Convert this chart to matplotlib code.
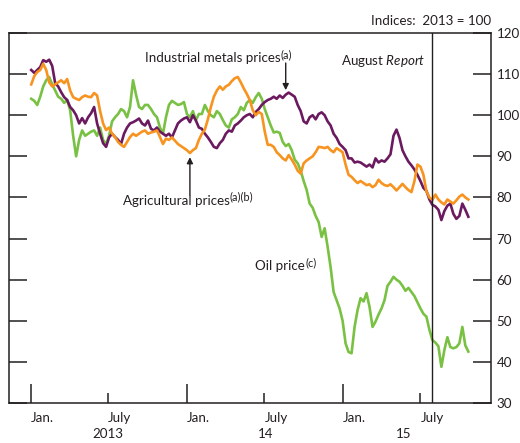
import matplotlib
matplotlib.use("Agg")
import matplotlib.pyplot as plt
import matplotlib.transforms as mtransforms
import pandas as pd

plt.rcParams['font.family'] = ['Lato', 'DejaVu Sans']
plt.rcParams['mathtext.fontset'] = 'custom'
plt.rcParams['mathtext.rm'] = 'Lato'
plt.rcParams['mathtext.it'] = 'Lato:italic'

# ---------------- data (weekly readings, indices 2013 = 100) ----------------
start_date = "2013-01-02"

metals = [111, 110.3, 111, 111.7, 113.4, 113, 113.5, 112, 107.8, 107,
          105.6, 104.4, 103.7, 102, 101.2, 100, 98, 99.3, 98, 99.5,
          100.5, 102, 98, 95.5, 93.2, 92.3, 94.6, 95.5, 94.7, 94,
          93, 95.5, 97, 98, 98.3, 98.7, 99.2, 98, 97.5, 98.7,
          96.7, 96.3, 97, 96, 95.5, 95, 95.5, 94.6, 96.3, 98,
          98.7, 99.2, 99.5, 98.3, 100, 98.7, 97, 96.7, 95.5, 94.6,
          93.5, 92.3, 92, 93.2, 94, 95.5, 96.3, 96, 97.5, 98,
          98.7, 99.5, 100, 100.3, 99.5, 100.8, 101.5, 102.5, 103.2, 103.7,
          104, 104.5, 104, 104.8, 104.2, 105, 105.5, 105, 104.5, 102.5,
          101, 98.5, 98, 99.5, 100, 99, 100.3, 100.7, 100, 98.5,
          97.5, 95.5, 94.5, 93, 92.3, 91.5, 89.5, 89.5, 88.5, 88.7,
          88.5, 88, 87.5, 88, 87.3, 89.5, 88.5, 89, 88.7, 89.5,
          90.5, 95, 96.5, 94.5, 91.5, 90, 88.7, 87.8, 86.8, 85.5,
          84, 82.3, 81.6, 79.5, 78.2, 77.8, 77, 74.5, 76.7, 78,
          78.5, 76, 74.8, 75.5, 78.5, 77, 75.3]

agri = [107.5, 109.5, 110.5, 111, 112.5, 111, 108, 107, 107.5, 108,
        108.5, 107.8, 108.8, 106, 104.4, 104, 103.7, 104.4, 104.8, 104.5,
        104.4, 105.4, 104.8, 101, 98, 96.4, 97, 95.5, 94.7, 93.5,
        92.8, 92.3, 93.5, 94.7, 95.5, 95, 95.5, 96, 96.3, 95.5,
        95.8, 96, 96.3, 94.7, 93, 94.3, 94, 94.6, 93.8, 93,
        92.5, 92, 91.5, 90.8, 91.5, 92, 94, 95.5, 96.5, 99,
        102, 104.5, 106, 107, 106.2, 107, 107.4, 108.3, 109, 109.3,
        108, 106.5, 105.2, 103.7, 101.2, 100, 100.8, 100.3, 96, 92.8,
        92.8, 92.3, 91, 90.3, 89.5, 89, 90.3, 89.2, 88, 86.5,
        85.8, 88.3, 89, 89.5, 90, 91, 92.3, 92.2, 92, 92.3,
        91.5, 91, 92, 91.5, 91, 88, 85.5, 85, 84.2, 83.5,
        84, 83.5, 83, 83.2, 82.5, 83, 84.3, 83.5, 83, 82.8,
        83.2, 82.5, 81.7, 82.5, 83.3, 82.5, 81.8, 81.3, 84, 88,
        87.5, 85.5, 81.5, 80, 79.4, 80.7, 79.5, 78.8, 78.3, 79.5,
        79, 78.5, 79.3, 80.2, 80.7, 80, 79.5]

oil = [104, 103.5, 102.5, 104.5, 107, 108.5, 109.3, 107.5, 106, 104.5,
       104, 103, 103.7, 101.2, 95, 90, 94, 96.3, 95, 95.5,
       96, 96.3, 95, 97, 94, 93, 95, 98.5, 99.5, 100.3,
       101.5, 101, 99.5, 102, 108.5, 105, 102, 101.5, 102.5, 102.5,
       101.5, 100.3, 99.5, 97, 95.5, 99.5, 102.5, 103.5, 103, 102.5,
       102.7, 103.2, 100.3, 99.5, 101, 98.8, 100.3, 100.3, 102.5, 101,
       100, 99.5, 101, 100.3, 98.8, 97.5, 97, 99, 99.5, 100.3,
       102, 101.2, 103, 103.7, 103, 104.4, 105.4, 104, 101.5, 99.5,
       97.5, 95.8, 96, 95.7, 93.5, 92.5, 93, 91.5, 89.2, 88.3,
       86.5, 84, 81.8, 78.5, 77.5, 75.5, 74, 70.4, 72.5, 68,
       63, 57, 55, 53, 50, 44.5, 42.4, 42.1, 48.5, 52.6,
       55.5, 54.7, 56.7, 53.4, 48.5, 49.8, 51.5, 53, 55, 58.5,
       59.5, 60.7, 60, 59.5, 58.5, 57.3, 58, 57, 56, 54.5,
       53, 51.7, 51, 47.8, 45.3, 44.7, 43.8, 38.8, 42.9, 46,
       43.6, 43.3, 43.6, 44.5, 48.5, 44, 42.5]

dates = pd.date_range(start_date, periods=len(oil), freq="7D")

report_date = pd.Timestamp("2015-07-28")
jan_ticks = pd.to_datetime(["2013-01-01", "2014-01-01", "2015-01-01"])
jul_ticks = pd.to_datetime(["2013-07-01", "2014-07-01", "2015-07-01"])
year_labels = ["2013", "14", "15"]
year_label_pos = pd.to_datetime(["2013-07-01", "2014-07-03", "2015-05-22"])
y_ticks = [30, 40, 50, 60, 70, 80, 90, 100, 110, 120]

# ---------------- styling ----------------
c_metals = "#6b1a5f"
c_agri = "#f7931e"
c_oil = "#79c143"
ink = "#231f20"
fs = 9.6
fs_sup = 7.8

fig = plt.figure(figsize=(5.2, 4.43), dpi=100)
ax = fig.add_axes([9 / 520, 1 - 403 / 443, (491 - 9) / 520, (403 - 33) / 443])

ax.plot(dates, oil, color=c_oil, lw=1.9, zorder=3)
ax.plot(dates, metals, color=c_metals, lw=1.9, zorder=4)
ax.plot(dates, agri, color=c_agri, lw=1.9, zorder=5)

ax.axvline(report_date, color=ink, lw=1.0, zorder=6)

ax.set_xlim(pd.Timestamp("2012-11-11"), pd.Timestamp("2015-12-13"))
ax.set_ylim(30, 120)

for s in ax.spines.values():
    s.set_color(ink)
    s.set_linewidth(1.1)

# y axis: ticks both sides, labels right
ax.set_yticks(y_ticks)
ax.yaxis.set_ticks_position("both")
ax.tick_params(axis="y", direction="in", length=13, width=1.1, color=ink,
               labelleft=False, labelright=True, labelsize=fs, pad=4,
               labelcolor=ink)

# x axis
ax.set_xticks(jan_ticks)
ax.set_xticklabels(["Jan."] * len(jan_ticks))
ax.set_xticks(jul_ticks, minor=True)
ax.set_xticklabels(["July"] * len(jul_ticks), minor=True)
ax.tick_params(axis="x", which="major", direction="in", length=14, width=1.1,
               color=ink, labelsize=fs, pad=6.5, labelcolor=ink)
ax.tick_params(axis="x", which="minor", direction="in", length=7.5, width=1.1,
               color=ink, labelsize=fs, pad=6.5, labelcolor=ink)
for lab in ax.get_xticklabels(which="both"):
    lab.set_horizontalalignment("left")
ax.xaxis.set_ticks_position("bottom")

trans = mtransforms.blended_transform_factory(ax.transData, ax.transAxes)
for lbl, pos in zip(year_labels, year_label_pos):
    ax.text(pos, -0.0950, lbl, transform=trans, ha="center", va="baseline",
            fontsize=fs, color=ink)

# header
ax.text(1.0, 1.022, "Indices:  2013 = 100", transform=ax.transAxes,
        ha="right", va="baseline", fontsize=fs, color=ink)


def label_with_sup(x, y, main, sup):
    t = ax.text(x, y, main, ha="left", va="baseline", fontsize=fs, color=ink)
    ax.annotate(sup, xy=(1.0, 1.0), xycoords=t, xytext=(0.1, 2.4),
                textcoords="offset points", ha="left", va="top",
                fontsize=fs_sup, color=ink)
    return t


# annotations
label_with_sup(pd.Timestamp("2013-09-25"), 112.9,
               "Industrial metals prices", "(a)")
ax.annotate("", xy=(pd.Timestamp("2014-08-20"), 106.1),
            xytext=(pd.Timestamp("2014-08-20"), 112.7),
            arrowprops=dict(arrowstyle="-|>", color=ink, lw=1.0,
                            mutation_scale=9, shrinkA=0, shrinkB=0))

ax.text(pd.Timestamp("2015-07-13"), 112.2, r"August $\mathit{Report}$",
        ha="right", va="baseline", fontsize=fs, color=ink)

label_with_sup(pd.Timestamp("2013-08-04"), 78.2,
               "Agricultural prices", "(a)(b)")
ax.annotate("", xy=(pd.Timestamp("2014-01-08"), 89.8),
            xytext=(pd.Timestamp("2014-01-08"), 80.6),
            arrowprops=dict(arrowstyle="-|>", color=ink, lw=1.0,
                            mutation_scale=9, shrinkA=0, shrinkB=0))

label_with_sup(pd.Timestamp("2014-06-10"), 62.3, "Oil price", "(c)")

fig.savefig("out.png", dpi=100)
